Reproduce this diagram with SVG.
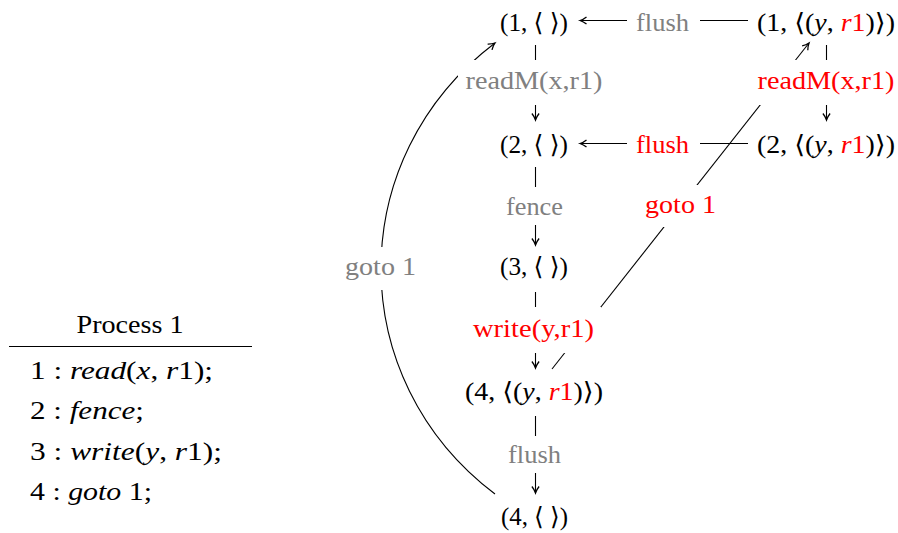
<svg xmlns="http://www.w3.org/2000/svg" width="898" height="533" viewBox="0 0 898 533">
<style>
.t{font-family:"Liberation Serif","DejaVu Serif","DejaVu Sans",serif;font-size:25px;fill:#000}
.g{fill:#808080}
.r{fill:#ff0000}
.k{fill:#000}
.i{font-style:italic}
.e{stroke:#000;stroke-width:1.1;fill:none}
.bg{fill:#fff}
</style>
<defs>
<marker id="ah" markerUnits="userSpaceOnUse" markerWidth="12" markerHeight="12" refX="0" refY="0" orient="auto" overflow="visible">
<path d="M-6.5,-3.6 C-4.5,-2 -1.8,-0.6 0,0 C-1.8,0.6 -4.5,2 -6.5,3.6" stroke="#000" stroke-width="1.3" fill="none"/>
</marker>
</defs>
<rect width="898" height="533" fill="#fff"/>

<g id="table">
<text class="t" x="130" y="333" text-anchor="middle" textLength="107" lengthAdjust="spacingAndGlyphs">Process 1</text>
<line x1="9" y1="346.5" x2="252" y2="346.5" stroke="#000" stroke-width="1.1"/>
<text class="t" x="30" y="379" textLength="183" lengthAdjust="spacingAndGlyphs">1 : <tspan class="i">read</tspan>(<tspan class="i">x</tspan>, <tspan class="i">r</tspan>1);</text>
<text class="t" x="30" y="419" textLength="114" lengthAdjust="spacingAndGlyphs">2 : <tspan class="i">fence</tspan>;</text>
<text class="t" x="30" y="459.5" textLength="192" lengthAdjust="spacingAndGlyphs">3 : <tspan class="i">write</tspan>(<tspan class="i">y</tspan>, <tspan class="i">r</tspan>1);</text>
<text class="t" x="30" y="500" textLength="122" lengthAdjust="spacingAndGlyphs">4 : <tspan class="i">goto</tspan> 1;</text>
</g>

<g id="connectors">
<line class="e" x1="748" y1="20.5" x2="580" y2="20.5" marker-end="url(#ah)"/>
<line class="e" x1="748" y1="143.5" x2="580" y2="143.5" marker-end="url(#ah)"/>
<line class="e" x1="535.5" y1="45" x2="535.5" y2="120" marker-end="url(#ah)"/>
<line class="e" x1="535.5" y1="167" x2="535.5" y2="245" marker-end="url(#ah)"/>
<line class="e" x1="535.5" y1="292" x2="535.5" y2="368" marker-end="url(#ah)"/>
<line class="e" x1="535.5" y1="416" x2="535.5" y2="493" marker-end="url(#ah)"/>
<line class="e" x1="826.5" y1="45" x2="826.5" y2="120" marker-end="url(#ah)"/>
<line class="e" x1="552" y1="369" x2="809" y2="43" marker-end="url(#ah)"/>
<path class="e" d="M495,494 C343,379 343,158 495,43" marker-end="url(#ah)"/>
</g>

<g id="edge-labels">
<g id="lbl-flush-1"><rect class="bg" x="627" y="5" width="73" height="40"/><text class="t g" x="662.5" y="31" text-anchor="middle" textLength="53" lengthAdjust="spacingAndGlyphs">flush</text></g>
<g id="lbl-flush-2"><rect class="bg" x="627" y="125" width="73" height="42"/><text class="t r" x="662.5" y="153" text-anchor="middle" textLength="53" lengthAdjust="spacingAndGlyphs">flush</text></g>
<g id="lbl-readM-1"><rect class="bg" x="458" y="60" width="152" height="45"/><text class="t g" x="534" y="89" text-anchor="middle" textLength="137" lengthAdjust="spacingAndGlyphs">readM(x,r1)</text></g>
<g id="lbl-fence"><rect class="bg" x="500" y="187" width="70" height="38"/><text class="t g" x="534.5" y="215" text-anchor="middle" textLength="57" lengthAdjust="spacingAndGlyphs">fence</text></g>
<g id="lbl-write"><rect class="bg" x="466" y="307" width="135" height="46"/><text class="t r" x="533.5" y="337" text-anchor="middle" textLength="121" lengthAdjust="spacingAndGlyphs">write(y,r1)</text></g>
<g id="lbl-flush-3"><rect class="bg" x="500" y="436" width="70" height="37"/><text class="t g" x="534.5" y="463" text-anchor="middle" textLength="53" lengthAdjust="spacingAndGlyphs">flush</text></g>
<g id="lbl-readM-2"><rect class="bg" x="750" y="60" width="148" height="45"/><text class="t r" x="826" y="89" text-anchor="middle" textLength="137" lengthAdjust="spacingAndGlyphs">readM(x,r1)</text></g>
<g id="lbl-goto-red"><rect class="bg" x="638" y="185" width="86" height="42"/><text class="t r" x="680.5" y="213" text-anchor="middle" textLength="71" lengthAdjust="spacingAndGlyphs">goto 1</text></g>
<g id="lbl-goto-gray"><rect class="bg" x="338" y="247" width="86" height="43"/><text class="t g" x="380.5" y="275" text-anchor="middle" textLength="71" lengthAdjust="spacingAndGlyphs">goto 1</text></g>
</g>

<g id="n1"><text class="t" x="534" y="31" text-anchor="middle" textLength="68" lengthAdjust="spacingAndGlyphs">(1, ⟨ ⟩)</text></g>
<g id="n2"><text class="t" x="534" y="153" text-anchor="middle" textLength="68" lengthAdjust="spacingAndGlyphs">(2, ⟨ ⟩)</text></g>
<g id="n3"><text class="t" x="534" y="275" text-anchor="middle" textLength="68" lengthAdjust="spacingAndGlyphs">(3, ⟨ ⟩)</text></g>
<g id="n4y"><text class="t" x="534" y="400" text-anchor="middle" textLength="138" lengthAdjust="spacingAndGlyphs">(4, ⟨(<tspan class="i">y</tspan>, <tspan class="i r">r</tspan><tspan class="r">1</tspan>)⟩)</text></g>
<g id="n4"><text class="t" x="534.5" y="525" text-anchor="middle" textLength="67" lengthAdjust="spacingAndGlyphs">(4, ⟨ ⟩)</text></g>
<g id="n1y"><text class="t" x="826" y="31" text-anchor="middle" textLength="138" lengthAdjust="spacingAndGlyphs">(1, ⟨(<tspan class="i">y</tspan>, <tspan class="i r">r</tspan><tspan class="r">1</tspan>)⟩)</text></g>
<g id="n2y"><text class="t" x="826" y="153" text-anchor="middle" textLength="138" lengthAdjust="spacingAndGlyphs">(2, ⟨(<tspan class="i">y</tspan>, <tspan class="i r">r</tspan><tspan class="r">1</tspan>)⟩)</text></g>
</svg>
